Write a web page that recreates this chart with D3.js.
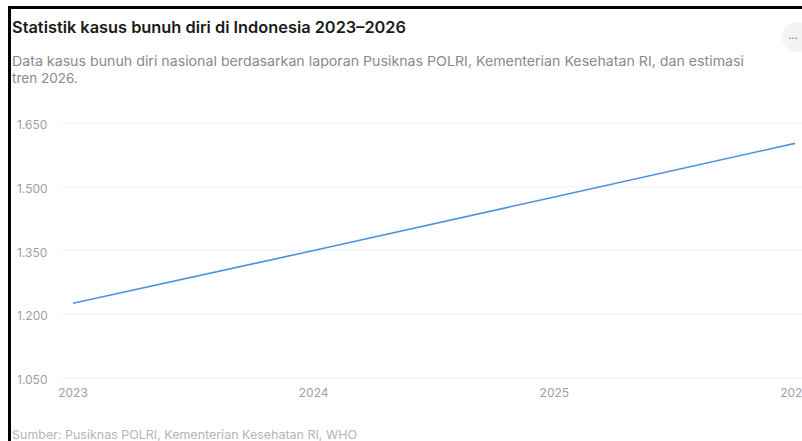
<!DOCTYPE html>
<html>
<head>
<meta charset="utf-8">
<script src="https://cdn.jsdelivr.net/npm/d3@7"></script>
<style>
    html, body { margin: 0; padding: 0; background: #fff; overflow: hidden; }
    #chart { position: relative; width: 802px; height: 441px; }
</style>
</head>
<body>
<div id="chart"></div>
<script>
var YEARS = ['2023', '2024', '2025', '2026'],
    CASES = [1226, 1350, 1476, 1602],
    Y_TICKS = [1050, 1200, 1350, 1500, 1650];

var TITLE = 'Statistik kasus bunuh diri di Indonesia 2023\u20132026',
    SUBTITLE = ['Data kasus bunuh diri nasional berdasarkan laporan Pusiknas POLRI, Kementerian Kesehatan RI, dan estimasi',
                'tren 2026.'],
    SOURCE = 'Sumber: Pusiknas POLRI, Kementerian Kesehatan RI, WHO';

var WIDTH = 802, HEIGHT = 441,
    FONT = 'Inter, Roboto, "Noto Sans", sans-serif';

var svg = d3.select('#chart').append('svg')
    .attr('width', WIDTH)
    .attr('height', HEIGHT)
    .style('font-family', FONT);

// frame of the screenshot (left + top edge only)
svg.append('rect').attr('x', 8).attr('y', 6).attr('width', WIDTH).attr('height', 3).attr('fill', '#000');
svg.append('rect').attr('x', 8).attr('y', 6).attr('width', 3).attr('height', HEIGHT).attr('fill', '#000');

// header
svg.append('text')
    .attr('x', 12).attr('y', 33)
    .attr('font-size', 16).attr('font-weight', 600).attr('fill', '#1a1a1a')
    .attr('textLength', 394).attr('lengthAdjust', 'spacingAndGlyphs')
    .text(TITLE);

svg.selectAll('text.sub')
    .data(SUBTITLE).enter().append('text')
    .attr('class', 'sub')
    .attr('x', 12)
    .attr('y', function(d, i) { return 66 + i * 17; })
    .attr('font-size', 13.5).attr('fill', '#8a8a8a')
    .attr('textLength', function(d, i) { return i === 0 ? 732 : null; })
    .attr('lengthAdjust', 'spacingAndGlyphs')
    .text(function(d) { return d; });

// menu button
svg.append('circle').attr('cx', 797).attr('cy', 37).attr('r', 15).attr('fill', '#f4f4f4');
svg.append('text').attr('x', 793).attr('y', 39)
    .attr('text-anchor', 'middle').attr('font-size', 11).attr('fill', '#777').text('\u2026');

// scales
var x = d3.scalePoint().domain(YEARS).range([73, 795]);
var y = d3.scaleLinear().domain([1050, 1650]).range([378, 123]);

// grid
svg.append('g').selectAll('line')
    .data(Y_TICKS).enter().append('line')
    .attr('x1', 60).attr('x2', WIDTH)
    .attr('y1', function(d) { return y(d); })
    .attr('y2', function(d) { return y(d); })
    .attr('stroke', '#f2f2f2').attr('stroke-width', 1);

// y axis labels
var fmt = function(d) { return d3.format(',')(d).replace(/,/g, '.'); };
svg.append('g').selectAll('text')
    .data(Y_TICKS).enter().append('text')
    .attr('x', 17)
    .attr('y', function(d) { return y(d) + 6; })
    .attr('font-size', 12).attr('fill', '#a0a0a0')
    .text(fmt);

// x axis labels
svg.append('g').selectAll('text')
    .data(YEARS).enter().append('text')
    .attr('x', function(d) { return x(d); })
    .attr('y', 397)
    .attr('text-anchor', 'middle')
    .attr('font-size', 12).attr('fill', '#a0a0a0')
    .text(function(d) { return d; });

// line
var line = d3.line()
    .x(function(d, i) { return x(YEARS[i]); })
    .y(function(d) { return y(d); });

svg.append('path')
    .datum(CASES)
    .attr('d', line)
    .attr('fill', 'none')
    .attr('stroke', '#4f92dc')
    .attr('stroke-width', 1.6);

// source
svg.append('text')
    .attr('x', 12).attr('y', 439)
    .attr('font-size', 12).attr('fill', '#b5b5b5')
    .attr('textLength', 345).attr('lengthAdjust', 'spacingAndGlyphs')
    .text(SOURCE);
</script>
</body>
</html>
